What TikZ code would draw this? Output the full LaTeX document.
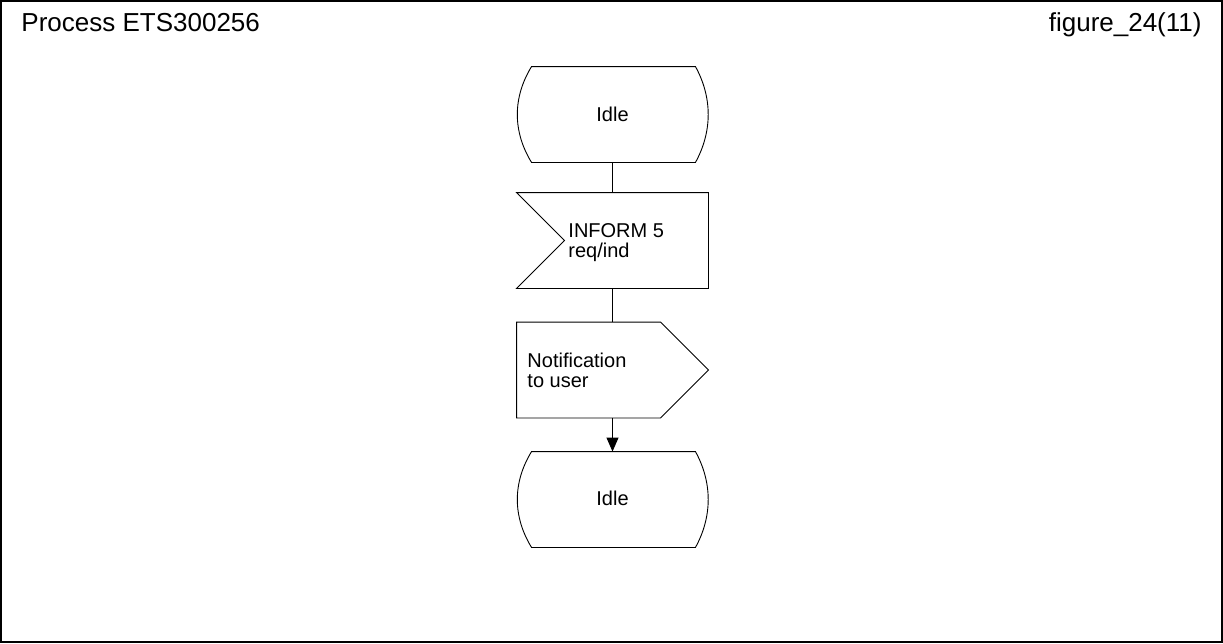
\documentclass[tikz,border=0pt]{standalone}
\usepackage{fontspec}
\setmainfont{Liberation Sans}
\usetikzlibrary{arrows.meta}
\begin{document}
\begin{tikzpicture}[x=1pt,y=-1pt,line width=0.9pt,
  shapebox/.style={draw=none,minimum width=191pt,minimum height=95pt,inner sep=0pt},
  lbl/.style={font=\fontsize{20}{20}\selectfont,align=left,inner sep=0pt},
  hdr/.style={font=\fontsize{26}{30}\selectfont,inner sep=0pt},
  conn/.style={draw=black},
  flow/.style={draw=black,-{Triangle[length=14pt,width=12pt]}}]
% page frame
\useasboundingbox (0,0) rectangle (1223,643);
\draw[line width=1.2pt] (1,1) rectangle (1222,642);
\node[hdr,anchor=base west] (title) at (21,31.5) {Process ETS300256};
\node[hdr,anchor=base east] (pageref) at (1202,31.5) {figure\_24(11)};

% symbol placeholders
\node[shapebox] (idleA) at (612.5,114.5) {};
\node[shapebox] (inform) at (612.5,240.5) {};
\node[shapebox] (notify) at (612.5,370) {};
\node[shapebox] (idleB) at (612.5,499.5) {};

% state symbols: flat top and bottom, bulging sides
\foreach \s in {idleA,idleB}{
  \draw ([xshift=15pt]\s.north west) -- ([xshift=-13pt]\s.north east)
    .. controls ([xshift=4pt,yshift=-31pt]\s.north east) and ([xshift=4pt,yshift=31pt]\s.south east) .. ([xshift=-13pt]\s.south east)
    -- ([xshift=15pt]\s.south west)
    .. controls ([xshift=-4pt,yshift=31pt]\s.south west) and ([xshift=-4pt,yshift=-31pt]\s.north west) .. ([xshift=15pt]\s.north west) -- cycle;
}
\node[lbl,anchor=base] (idleAtext) at (612.5,121) {Idle};
\node[lbl,anchor=base] (idleBtext) at (612.5,505.5) {Idle};

% input signal symbol
\draw (inform.north west) -- (inform.north east) -- (inform.south east) -- (inform.south west)
  -- ([xshift=48pt]inform.west) -- cycle;
\node[lbl,anchor=west] (informtext) at (568,243) {INFORM 5\\req/ind};

% output signal symbol
\draw (notify.north west) -- ([xshift=-48pt]notify.north east) -- (notify.east)
  -- ([xshift=-48pt]notify.south east) -- (notify.south west) -- cycle;
\node[lbl,anchor=west] (notifytext) at (527,370.3) {Notification\\to user};

% connectors
\draw[conn] (idleA.south) -- (inform.north);
\draw[conn] (inform.south) -- (notify.north);
\path[flow] (notify.south) -- (idleB.north);
\end{tikzpicture}
\end{document}
